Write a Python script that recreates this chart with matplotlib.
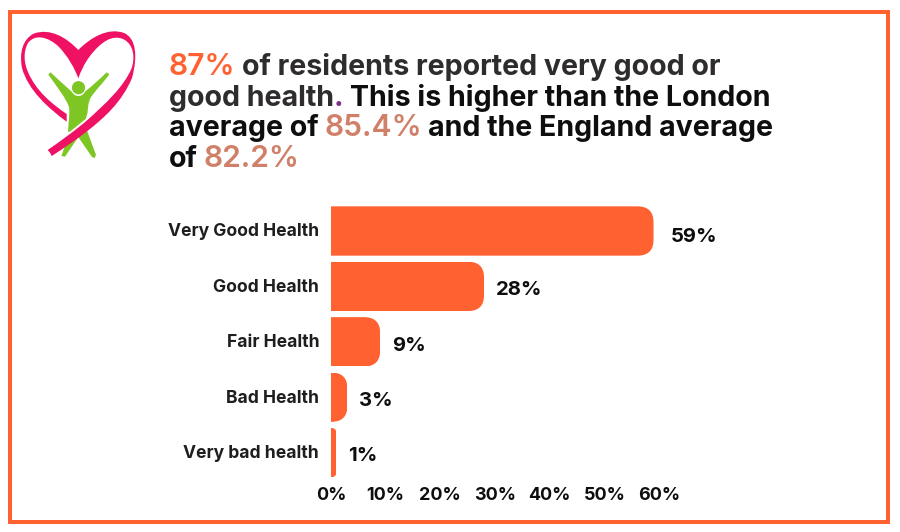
import matplotlib
matplotlib.use("Agg")
import matplotlib.pyplot as plt
from matplotlib.path import Path
from matplotlib.patches import PathPatch, Rectangle, Circle
from matplotlib.transforms import ScaledTranslation

categories = ["Very Good Health", "Good Health", "Fair Health", "Bad Health", "Very bad health"]
values = [59, 28, 9, 3, 1]
xticks = [0, 10, 20, 30, 40, 50, 60]
label_dx = [17, 12, 12, 12, 12]
label_dy = [6, 3.5, 4, 4, 3.5]

ORANGE = "#FF6130"; SALMON = "#D08068"; INK = "#0E0E0E"; GREY = "#2E2C2C"; PINK = "#EE1164"; GREEN = "#7DC623"; PURPLE = "#7B2D8E"
W, H = 900, 532
plt.rcParams["font.family"] = ["Inter", "DejaVu Sans"]
fig = plt.figure(figsize=(W / 100, H / 100), dpi=100, facecolor="white")

# overlay in pixel coordinates for frame, logo and headline
ov = fig.add_axes([0, 0, 1, 1], zorder=0)
ov.set_xlim(0, W); ov.set_ylim(H, 0); ov.axis("off")
ov.add_patch(Rectangle((10, 12), 878, 510, fill=False, ec=ORANGE, lw=2.88, joinstyle="miter"))

M, L, C, Z = Path.MOVETO, Path.LINETO, Path.CURVE4, Path.CLOSEPOLY
def shape(cmds, **kw):
    verts, codes = [], []
    for code, pts in cmds:
        for p in pts:
            verts.append(p); codes.append(code)
    ov.add_patch(PathPatch(Path(verts, codes), lw=0, **kw))

# logo: figure
shape([(M, [(48.3, 74.5)]), (L, [(50.5, 72.3)]), (C, [(58, 79), (65, 86), (71.7, 91.7)]),
       (C, [(75, 97.5), (82, 97.5), (85, 91.7)]), (C, [(92, 86), (100, 79), (106.7, 72.3)]),
       (L, [(109.3, 74.5)]), (C, [(102, 84), (94, 92), (90.5, 98)]),
       (C, [(88, 103), (88, 108), (87.5, 113)]), (L, [(84, 125)]), (L, [(68, 132)]),
       (C, [(68.5, 122), (70, 112), (69, 107)]), (C, [(66, 98), (57, 87), (48.3, 74.5)]), (Z, [(48.3, 74.5)])],
      fc=GREEN, zorder=2)
shape([(M, [(85, 125)]), (L, [(96, 155)]), (L, [(94.5, 158)]), (L, [(92, 157)]), (L, [(78.3, 137)]),
       (L, [(65, 156.7)]), (L, [(61.5, 156)]), (L, [(70, 130)]), (Z, [(85, 125)])], fc=GREEN, zorder=2)
ov.add_patch(Circle((78.5, 87.7), 6.6, fc=GREEN, lw=0, zorder=2))
# white gap along the ribbon
shape([(M, [(64, 136.5)]), (L, [(90, 115.5)]), (L, [(92, 120)]), (L, [(66, 139)]), (Z, [(64, 136.5)])], fc="white", zorder=2.5)
# logo: ribbon
shape([(M, [(47.7, 150)]), (C, [(62, 140), (76, 130), (88, 119.5)]), (C, [(104, 105), (124, 87), (131.7, 68)]),
       (C, [(135, 58), (134, 45), (124, 39.5)]), (C, [(112, 33.5), (100, 43), (90, 56)]),
       (C, [(84, 64), (81, 71), (78.3, 78.3)]), (C, [(75, 69), (68, 56), (58, 46)]),
       (C, [(48, 37), (35, 33.5), (28, 43)]), (C, [(23, 52), (24, 63), (28, 72)]),
       (C, [(36, 91), (52, 104), (66.7, 114)]), (L, [(66.7, 121.7)]), (C, [(48, 108), (28, 90), (22, 68)]),
       (C, [(19, 52), (23, 39), (34, 33.5)]), (C, [(50, 28), (66, 37), (78.3, 50)]),
       (C, [(90, 38), (108, 27), (124, 33)]), (C, [(136, 38), (138, 56), (132, 78)]),
       (C, [(122, 102), (104, 118), (88, 130.5)]), (C, [(76, 140), (64, 148), (51.7, 156)]),
       (L, [(50, 152.7)]), (L, [(47.7, 150)]), (Z, [(47.7, 150)])], fc=PINK, zorder=3)

# headline spans, one text per colour
FS = 20.6; PCT = 21.6
lines = [[("87%", ORANGE, 600, PCT), (" of residents reported very good or", GREY, 700, FS)],
         [("good health", GREY, 700, FS), (".", PURPLE, 700, FS), (" This is higher than the London", INK, 700, FS)],
         [("average of ", INK, 700, FS), ("85.4%", SALMON, 600, PCT), (" and the England average", INK, 700, FS)],
         [("of ", INK, 700, FS), ("82.2%", SALMON, 600, PCT)]]
renderer = fig.canvas.get_renderer()
SPACE = 6.0
for base, spans in zip([75, 105.5, 136.5, 167], lines):
    x = 169
    for s, col, wt, fs in spans:
        if s.startswith(" "):
            x += SPACE
        t = ov.text(x, base, s.strip(), color=col, fontweight=wt, fontsize=fs, ha="left", va="baseline")
        x = t.get_window_extent(renderer).x1
        if s.endswith(" "):
            x += SPACE

# chart
ax = fig.add_axes([331 / W, 1 - 480.3 / H, 328 / W, 277 / H], zorder=1)
ax.patch.set_alpha(0)
ypos = list(range(len(categories)))
bars = ax.barh(ypos, values, height=0.89, color=ORANGE)
ax.set_xlim(0, 60); ax.set_ylim(4.5, -0.5)
ux = 328 / 60; uy = 277 / 5
for b, v, dx, dy in zip(bars, values, label_dx, label_dy):
    y0, y1 = b.get_y(), b.get_y() + b.get_height()
    r = min(16, v * ux)
    rx = r / ux; ry = r / uy
    clip = Path([(0, y0), (v - rx, y0), (v, y0), (v, y0 + ry), (v, y1 - ry), (v, y1), (v - rx, y1), (0, y1), (0, y0)],
                [M, L, Path.CURVE3, Path.CURVE3, L, Path.CURVE3, Path.CURVE3, L, Z])
    b.set_clip_path(clip, ax.transData)
    ax.annotate(f"{v}%", (v, (y0 + y1) / 2), xytext=(dx * 0.72, -dy * 0.72), textcoords="offset points",
                ha="left", va="center", fontsize=14.6, fontweight=700, color=INK, annotation_clip=False)
for s in ax.spines.values():
    s.set_visible(False)
ax.set_yticks(ypos, categories, fontsize=12.6, fontweight=700, color="#1E1E1E")
ax.set_xticks(xticks, [f"{t}%" for t in xticks], fontsize=12.9, fontweight=700, color=INK)
ax.tick_params(length=0)
ax.tick_params(axis="y", pad=8.5)
ax.tick_params(axis="x", pad=4.5)
up = ScaledTranslation(0, 1 / 100, fig.dpi_scale_trans)
for lab in ax.get_yticklabels():
    lab.set_transform(lab.get_transform() + up)
fig.savefig("out.png", dpi=100, facecolor="white")
